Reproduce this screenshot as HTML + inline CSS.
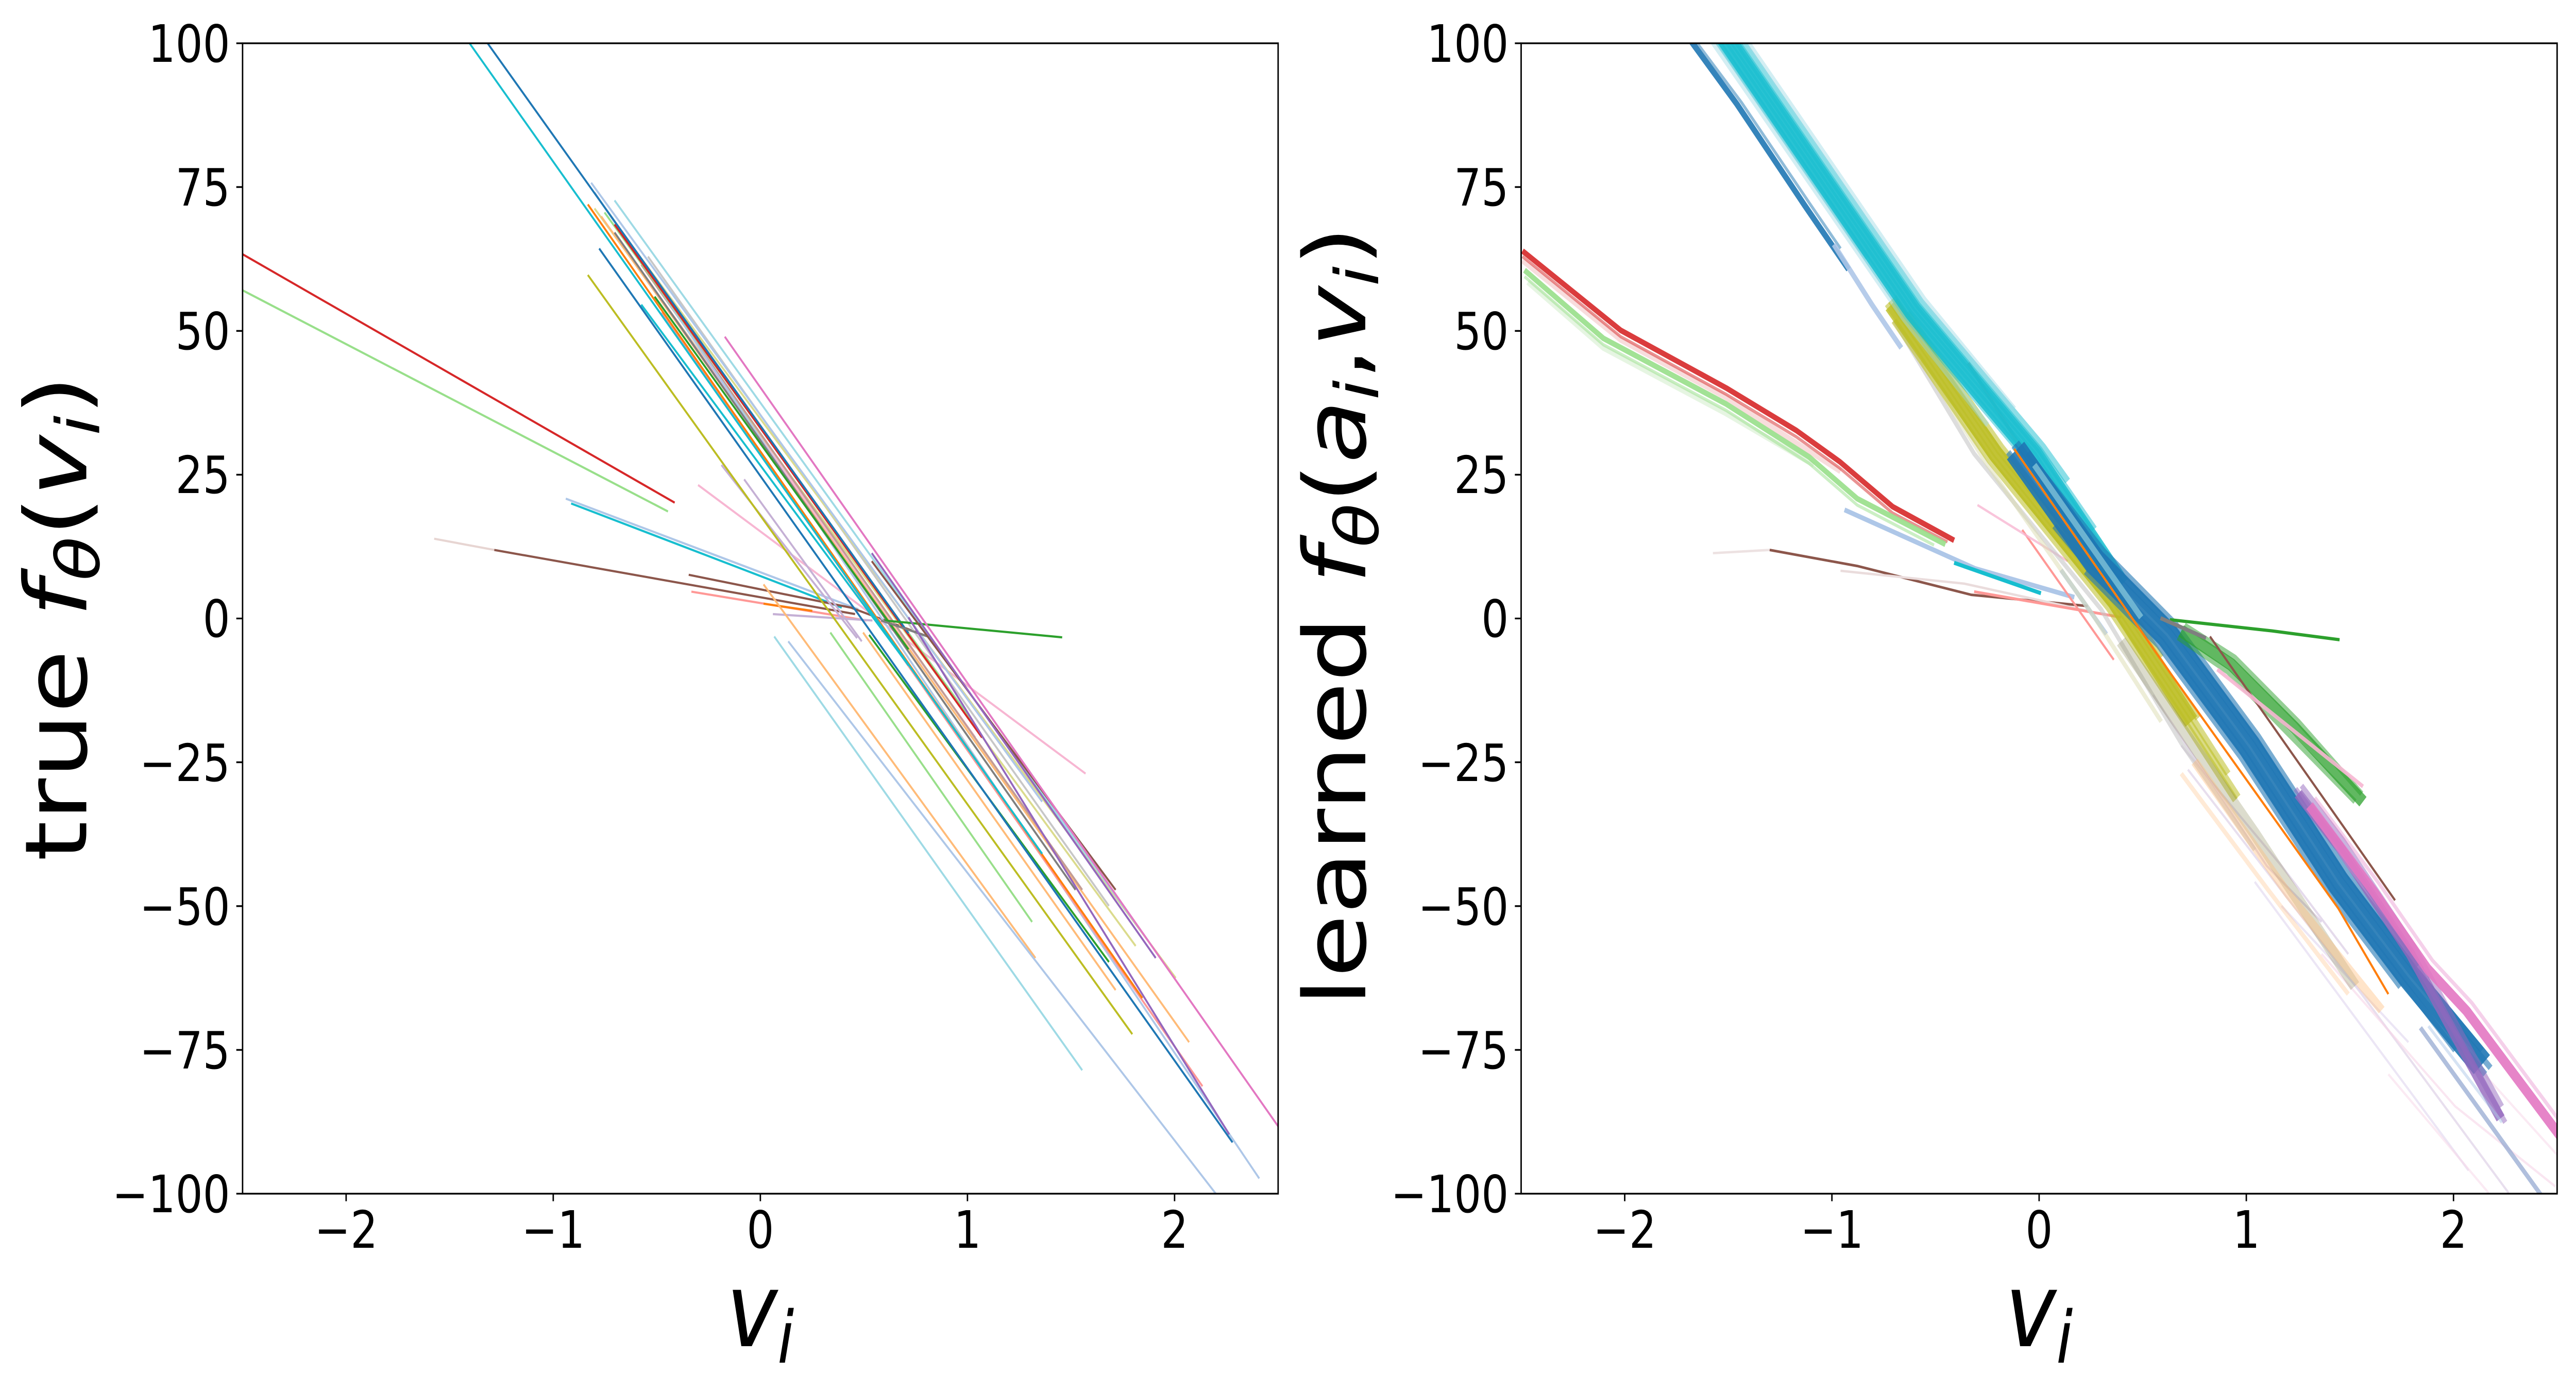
<!DOCTYPE html>
<html><head><meta charset="utf-8"><style>
html,body{margin:0;padding:0;background:#fff;overflow:hidden;width:100%;height:100%;}
svg{display:block;position:fixed;left:0;top:0;width:100vw;height:100vh;}
text{font-family:"DejaVu Sans","Liberation Sans",sans-serif;fill:#000;}
</style></head><body>
<svg viewBox="0 0 6000 2700" preserveAspectRatio="none" xmlns="http://www.w3.org/2000/svg">
<defs>
<clipPath id="cl"><rect x="3.2" y="54" width="1550" height="1435"/></clipPath>
<clipPath id="cr"><rect x="2" y="54" width="1550.5" height="1435"/></clipPath>
</defs>
<rect width="6000" height="2700" fill="#fff"/>

<!-- LEFT PLOT DATA (zoom coords) -->
<g transform="translate(560 0) scale(1.5561)" clip-path="url(#cl)" fill="none" stroke-width="2.7" stroke-linejoin="round">
<polyline stroke="#d62728" points="3,317 650,627"/>
<polyline stroke="#98df8a" points="3,362 640,638"/>
<polyline stroke="#e7d5d2" points="290,672 380,686"/>
<polyline stroke="#8c564b" points="380,686 920,766"/>
<polyline stroke="#aec7e8" points="487,622 925,760"/>
<polyline stroke="#17becf" points="495,628 833,736 900,758"/>
<polyline stroke="#8c564b" points="671,717 914,758 1029,794"/>
<polyline stroke="#ff9896" points="675,738 937,774"/>
<polyline stroke="#c5b0d5" points="797,766 946,774"/>
<polyline stroke="#ff7f0e" points="783,753 856,762"/>
<polyline stroke="#f7b6d2" points="685,605 1265,965"/>
<polyline stroke="#c5b0d5" points="720,580 923,796"/>
<polyline stroke="#c5b0d5" points="754,598 930,800"/>
<polyline stroke="#9edae5" points="799,794 1260,1335"/>
<polyline stroke="#ffbb78" points="783,729 1190,1195"/>
<polyline stroke="#98df8a" points="883,789 1185,1150"/>
<polyline stroke="#ffbb78" points="932,789 1310,1235"/>
<polyline stroke="#aec7e8" points="820,800 1460,1489"/>
<polyline stroke="#bcbd22" points="520,343 1335,1290"/>
<polyline stroke="#dbdb8d" points="530,260 1340,1180"/>
<polyline stroke="#c7c7c7" points="610,320 1300,1130"/>
<polyline stroke="#dbdb8d" points="580,300 1400,1220"/>
<polyline stroke="#9edae5" points="560,250 1360,1175"/>
<polyline stroke="#ffbb78" points="540,270 1420,1300"/>
<polyline stroke="#f7b6d2" points="610,350 1100,920"/>
<polyline stroke="#c49c94" points="600,330 1260,1110"/>
<polyline stroke="#aec7e8" points="525,228 1200,1000"/>
<polyline stroke="#aec7e8" points="530,240 1525,1470"/>
<polyline stroke="#98df8a" points="545,265 1100,905"/>
<polyline stroke="#7f7f7f" points="560,290 1250,1110"/>
<polyline stroke="#ff9896" points="630,390 1440,1355"/>
<polyline stroke="#ff7f0e" points="520,255 1350,1245"/>
<polyline stroke="#2ca02c" points="620,370 1000,810"/>
<polyline stroke="#2ca02c" points="941,792 1300,1200"/>
<polyline stroke="#17becf" points="600,380 1000,830"/>
<polyline stroke="#d62728" points="560,280 1110,920"/>
<polyline stroke="#17becf" points="343,54 1200,1065"/>
<polyline stroke="#1f77b4" points="370,54 1000,790"/>
<polyline stroke="#1f77b4" points="537,310 1485,1425"/>
<polyline stroke="#2ca02c" points="964,774 1230,795"/>
<polyline stroke="#7f7f7f" points="959,774 1029,794"/>
<polyline stroke="#8c564b" points="945,700 1310,1110"/>
<polyline stroke="#9467bd" points="945,690 1370,1195"/>
<polyline stroke="#9467bd" points="1000,770 1480,1415"/>
<polyline stroke="#e377c2" points="725,420 1555,1407"/>
</g>

<!-- RIGHT PLOT DATA (zoom coords) -->
<g transform="translate(3540 0) scale(1.5561)" clip-path="url(#cr)" fill="none" stroke-linejoin="round" stroke-linecap="butt">
<polyline stroke="#f4c6c6" stroke-width="7" stroke-opacity="0.6" points="4,325 151,424 309,496 480,588"/>
<polyline stroke="#d6efcf" stroke-width="7" stroke-opacity="0.6" points="12,352 125,434 309,516 440,580"/>
<polyline stroke="#c5b0d5" stroke-width="3" stroke-opacity="0.5" points="948,867 1118,1080 1200,1150"/>
<polyline stroke="#c5b0d5" stroke-width="3" stroke-opacity="0.45" points="990,930 1140,1080 1240,1190"/>
<polyline stroke="#c5b0d5" stroke-width="3" stroke-opacity="0.4" points="1000,960 1260,1240 1480,1488"/>
<polyline stroke="#e0d6ee" stroke-width="3" stroke-opacity="0.6" points="1100,1100 1420,1460"/>
<polyline stroke="#e0d6ee" stroke-width="3" stroke-opacity="0.6" points="1140,1130 1330,1300"/>
<polyline stroke="#f7d6e8" stroke-width="3" stroke-opacity="0.6" points="1200,1190 1400,1380 1550,1480"/>
<polyline stroke="#f7d6e8" stroke-width="3" stroke-opacity="0.5" points="1300,1340 1450,1488"/>
<polyline stroke="#f7d6e8" stroke-width="3" stroke-opacity="0.5" points="1400,1300 1552,1440"/>
<polyline stroke="#d62728" stroke-width="4" stroke-opacity="0.5" points="4,320 151,420 309,492 414,545 479,584 558,640 640,676"/>
<polyline stroke="#d62728" stroke-width="7" stroke-opacity="0.9" points="4,313 151,412 309,484 414,537 479,576 558,632 650,674"/>
<polyline stroke="#98df8a" stroke-width="4" stroke-opacity="0.5" points="7,345 125,430 309,512 433,578 505,630 620,680"/>
<polyline stroke="#98df8a" stroke-width="7" stroke-opacity="0.9" points="7,337 125,422 309,504 433,570 505,622 637,679"/>
<polyline stroke="#9edae5" stroke-width="8" stroke-opacity="0.5" points="290,44 520,322"/>
<polyline stroke="#1f77b4" stroke-width="8" stroke-opacity="0.9" points="255,50 325,130 427,257 492,336"/>
<polyline stroke="#1f77b4" stroke-width="4" stroke-opacity="0.5" points="262,50 332,128 434,254 480,310"/>
<polyline stroke="#aec7e8" stroke-width="7" stroke-opacity="0.9" points="470,305 527,380 571,434"/>
<polyline stroke="#ede2e2" stroke-width="3" points="289,690 374,686"/>
<polyline stroke="#8c564b" stroke-width="3.2" points="374,686 505,706 676,742 850,756"/>
<polyline stroke="#eadcdc" stroke-width="3" points="480,712 665,728 850,762"/>
<polyline stroke="#aec7e8" stroke-width="6" points="486,636 681,709 830,745"/>
<polyline stroke="#17becf" stroke-width="5" points="650,702 780,740"/>
<polyline stroke="#ff9896" stroke-width="3.5" points="680,738 900,770"/>
<polyline stroke="#ff9896" stroke-width="3" points="752,661 889,823"/>
<polyline stroke="#aec7e8" stroke-width="6" stroke-opacity="0.8" points="810,711 878,791"/>
<polyline stroke="#f7b6d2" stroke-width="3" stroke-opacity="0.8" points="685,630 820,700"/>
<polyline stroke="#c49c94" stroke-width="5" stroke-opacity="0.8" points="671,453 810,638"/>
<polyline stroke="#c7c7c7" stroke-width="6" stroke-opacity="0.6" points="560,400 680,566 870,760 990,927 1100,1060"/>
<polyline stroke="#dcdcb0" stroke-width="6" stroke-opacity="0.5" points="600,450 700,580 860,770 960,900"/>
<polyline stroke="#bcbd22" stroke-width="22" stroke-opacity="0.8" points="556,380 712,566 890,750 1005,900"/>
<g stroke="#bcbd22" stroke-width="9" stroke-opacity="0.55">
<polyline points="560,400 703,574 881,758 1001,908 1071,998"/>
<polyline points="550,379 707,570 885,754 1005,904 1075,994"/>
<polyline points="555,375 712,566 890,750 1010,900 1060,965"/>
<polyline points="560,371 717,562 895,746 1015,896"/>
<polyline points="580,390 721,558 899,742 960,820"/>
</g>
<polyline stroke="#17becf" stroke-width="26" stroke-opacity="0.85" points="303,42 588,388 770,568 900,730"/>
<g stroke="#17becf" stroke-width="9" stroke-opacity="0.5">
<polyline points="294,49 579,395 761,575 850,680"/>
<polyline points="299,45 584,391 766,571 890,725"/>
<polyline points="303,42 588,388 770,568 920,760"/>
<polyline points="307,38 592,384 774,564 900,720"/>
<polyline points="311,35 596,381 778,561 860,660"/>
<polyline points="316,31 601,377 783,557 820,600"/>
</g>
<polyline stroke="#9edae5" stroke-width="7" stroke-opacity="0.45" points="320,27 605,373 740,510"/>
<polyline stroke="#9edae5" stroke-width="7" stroke-opacity="0.45" points="289,53 575,398 700,530"/>
<polyline stroke="#8c8c5a" stroke-width="16" stroke-opacity="0.3" points="900,800 1100,1040 1250,1230"/>
<polyline stroke="#ffbb78" stroke-width="12" stroke-opacity="0.4" points="1010,950 1150,1115 1290,1260"/>
<polyline stroke="#ffbb78" stroke-width="6" stroke-opacity="0.3" points="990,965 1120,1110 1240,1240"/>
<polyline stroke="#1f77b4" stroke-width="34" stroke-opacity="0.9" points="742,562 860,700 969,792 1092,931 1225,1101 1331,1218 1440,1328"/>
<g stroke="#1f77b4" stroke-width="8" stroke-opacity="0.6">
<polyline points="847,713 956,805 1079,944 1212,1114 1318,1231"/>
<polyline points="800,656 852,708 961,800 1084,939 1217,1109 1323,1226 1400,1310"/>
<polyline points="731,564 856,704 965,796 1088,935 1221,1105 1327,1222 1445,1340"/>
<polyline points="739,556 864,696 973,788 1096,927 1229,1097 1335,1214 1453,1332"/>
<polyline points="744,552 869,692 978,784 1101,923 1234,1093 1340,1210 1440,1310"/>
<polyline points="760,565 873,687 982,779 1105,918 1238,1088 1344,1205"/>
</g>
<polyline stroke="#9edae5" stroke-width="8" stroke-opacity="0.6" points="770,580 930,770"/>
<polyline stroke="#ff7f0e" stroke-width="3" points="740,560 974,840 1225,1133 1300,1240"/>
<polyline stroke="#9467bd" stroke-width="14" stroke-opacity="0.8" points="1165,990 1228,1058 1333,1190 1468,1395"/>
<g stroke="#9467bd" stroke-width="7" stroke-opacity="0.5">
<polyline points="1161,984 1225,1053 1331,1186 1475,1400"/>
<polyline points="1170,980 1232,1048 1338,1180 1470,1380"/>
</g>
<polyline stroke="#e377c2" stroke-width="13" stroke-opacity="0.9" points="1182,1005 1278,1112 1358,1208 1417,1261 1558,1418"/>
<polyline stroke="#e377c2" stroke-width="5" stroke-opacity="0.35" points="1190,995 1286,1102 1366,1198 1425,1251 1558,1400"/>
<polyline stroke="#8fa4cf" stroke-width="6" stroke-opacity="0.7" points="1348,1282 1528,1490"/>
<polyline stroke="#aec7e8" stroke-width="4" stroke-opacity="0.5" points="1360,1280 1470,1400"/>
<polyline stroke="#2ca02c" stroke-width="16" stroke-opacity="0.75" points="990,787 1065,829 1161,909 1262,1000"/>
<g stroke="#2ca02c" stroke-opacity="0.5" stroke-width="7">
<polyline points="995,780 1070,820 1165,900 1260,990"/>
<polyline points="985,795 1060,838 1150,915 1250,1000"/>
</g>
<polyline stroke="#2ca02c" stroke-width="4" points="973,773 1126,787 1227,798"/>
<polyline stroke="#7f7f7f" stroke-width="5" points="959,771 1027,796"/>
<polyline stroke="#8c564b" stroke-width="3" points="1033,794 1247,1048 1310,1123"/>
<polyline stroke="#f7b6d2" stroke-width="5" stroke-opacity="0.9" points="1044,835 1262,981"/>
</g>

<g fill="none" stroke="#000" stroke-width="3.33">
<rect x="565" y="84" width="2412" height="2233"/>
<rect x="3543" y="84" width="2413" height="2233"/>
</g>

<g stroke="#000" stroke-width="3.33">
<path d="M550.4 84H565M550.4 363.1H565M550.4 642.3H565M550.4 921.4H565M550.4 1200.5H565M550.4 1479.6H565M550.4 1758.8H565M550.4 2037.9H565M550.4 2317H565"/>
<path d="M806.2 2317V2331.6M1288.6 2317V2331.6M1771 2317V2331.6M2253.4 2317V2331.6M2735.8 2317V2331.6"/>
<path d="M3528.4 84H3543M3528.4 363.1H3543M3528.4 642.3H3543M3528.4 921.4H3543M3528.4 1200.5H3543M3528.4 1479.6H3543M3528.4 1758.8H3543M3528.4 2037.9H3543M3528.4 2317H3543"/>
<path d="M3784.3 2317V2331.6M4266.9 2317V2331.6M4749.5 2317V2331.6M5232.1 2317V2331.6M5714.7 2317V2331.6"/>
</g>

<g font-size="100" text-anchor="end">
<text x="536" y="120">100</text>
<text x="536" y="399">75</text>
<text x="536" y="678">50</text>
<text x="536" y="957">25</text>
<text x="536" y="1236">0</text>
<text x="536" y="1516">−25</text>
<text x="536" y="1795">−50</text>
<text x="536" y="2074">−75</text>
<text x="536" y="2353">−100</text>
<text x="3514" y="120">100</text>
<text x="3514" y="399">75</text>
<text x="3514" y="678">50</text>
<text x="3514" y="957">25</text>
<text x="3514" y="1236">0</text>
<text x="3514" y="1516">−25</text>
<text x="3514" y="1795">−50</text>
<text x="3514" y="2074">−75</text>
<text x="3514" y="2353">−100</text>
</g>
<g font-size="100" text-anchor="middle">
<text x="806.2" y="2422">−2</text>
<text x="1288.6" y="2422">−1</text>
<text x="1771" y="2422">0</text>
<text x="2253.4" y="2422">1</text>
<text x="2735.8" y="2422">2</text>
<text x="3784.3" y="2422">−2</text>
<text x="4266.9" y="2422">−1</text>
<text x="4749.5" y="2422">0</text>
<text x="5232.1" y="2422">1</text>
<text x="5714.7" y="2422">2</text>
</g>

<text x="1771" y="2613" font-size="200" text-anchor="middle" font-style="italic">v<tspan font-size="140" dy="32">i</tspan></text>
<text x="4749.5" y="2613" font-size="200" text-anchor="middle" font-style="italic">v<tspan font-size="140" dy="32">i</tspan></text>

<text transform="translate(201 1200) rotate(-90)" font-size="200" text-anchor="middle">true <tspan font-style="italic">f</tspan><tspan font-style="italic" font-size="140" dy="30">θ</tspan><tspan dy="-30">(</tspan><tspan font-style="italic">v</tspan><tspan font-style="italic" font-size="140" dy="30">i</tspan><tspan dy="-30">)</tspan></text>

<text transform="translate(3180 1196) rotate(-90)" font-size="200" text-anchor="middle">learned <tspan font-style="italic">f</tspan><tspan font-style="italic" font-size="140" dy="30">θ</tspan><tspan dy="-30">(</tspan><tspan font-style="italic">a</tspan><tspan font-style="italic" font-size="140" dy="30">i</tspan><tspan dy="-30">,</tspan><tspan font-style="italic">v</tspan><tspan font-style="italic" font-size="140" dy="30">i</tspan><tspan dy="-30">)</tspan></text>
</svg>
</body></html>
